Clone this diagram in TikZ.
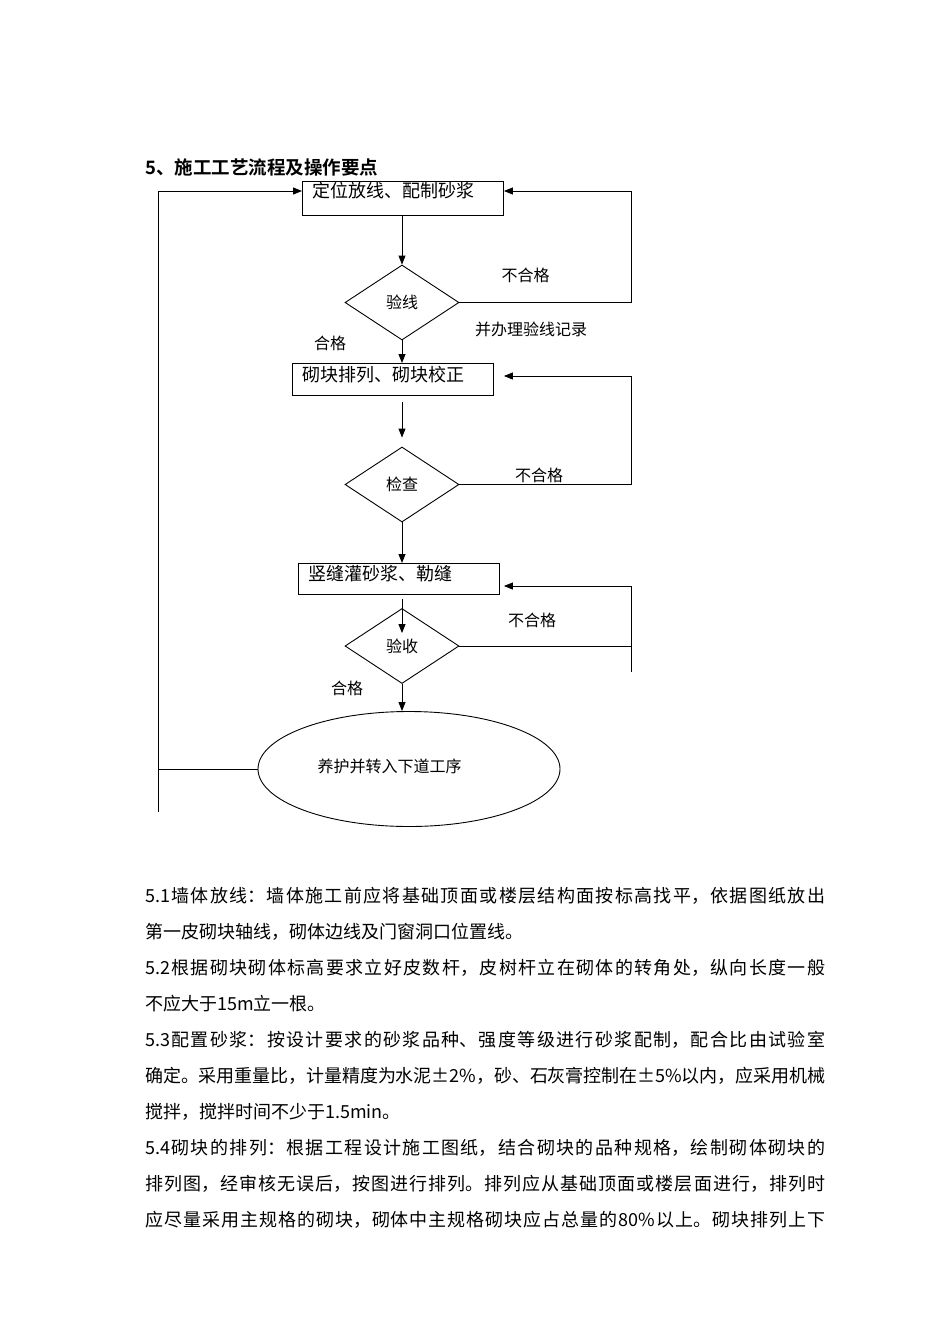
\documentclass[tikz,border=0pt]{standalone}
\usepackage{fontspec}
\newfontfamily\cjk{Noto Sans CJK SC}
\newfontfamily\cjkbf{Noto Sans CJK SC Bold}
\usetikzlibrary{shapes.geometric,arrows.meta,positioning}
\newcommand\fullline[1]{\parbox{680pt}{\XeTeXlinebreaklocale "zh"\XeTeXlinebreakskip=0pt plus 1fil minus 1pt\parfillskip=0pt\tolerance=10000\noindent #1}}
\tikzset{
  procbox/.style={draw, line width=0.9pt, anchor=north west, text width=181pt, inner xsep=10pt, inner ysep=2pt, align=left, font=\cjk\fontsize{18}{18}\selectfont},
  check/.style={draw, line width=0.9pt, diamond, aspect=1.52, minimum width=114pt, minimum height=75pt, inner sep=0pt, font=\cjk\fontsize{16}{16}\selectfont},
  note/.style={font=\cjk\fontsize{16}{16}\selectfont, inner sep=0pt},
  flow/.style={line width=0.9pt, -{Triangle[length=9pt,width=7pt]}},
  plainline/.style={line width=0.9pt},
  para/.style={anchor=west, inner sep=0pt, font=\cjk\fontsize{18}{18}\selectfont}
}
\begin{document}
\begin{tikzpicture}[x={(1pt,0)}, y={(0,-1pt)}]
  \fill[white] (0,0) rectangle (950,1344);
  \useasboundingbox (0,0) rectangle (950,1344);

  % heading
  \node[anchor=west, inner sep=0pt, font=\cjkbf\fontsize{18.5}{18.5}\selectfont] (title) at (145,167) {5、施工工艺流程及操作要点};

  % steps and checks
  \node[procbox, text height=14pt, text depth=16pt] (box1) at (302,181) {定位放线、配制砂浆};
  \node[check] (d1) at (402,302.5) {验线};
  \node[procbox, text height=16pt, text depth=12pt] (box2) at (292,363) {砌块排列、砌块校正};
  \node[check] (d2) at (402,484.5) {检查};
  \node[procbox, text height=15pt, text depth=12pt] (box3) at (298,563) {竖缝灌砂浆、勒缝};
  \node[check] (d3) at (402,646) {验收};
  \node[draw, line width=0.9pt, ellipse, minimum width=302pt, minimum height=115pt, inner sep=0pt,
        label={[note, xshift=-19.5pt, yshift=3pt]center:养护并转入下道工序}] (ell) at (409,769) {};

  % labels
  \node[note] (fail1) at (525.5,275) {不合格};
  \node[note] (rec1) at (531,329) {并办理验线记录};
  \node[note] (pass1) at (330,343) {合格};
  \node[note] (fail2) at (539,475) {不合格};
  \node[note] (fail3) at (532,620) {不合格};
  \node[note] (pass3) at (347,688) {合格};

  % main flow
  \draw[flow] (d1 |- box1.south) -- (d1.north);
  \draw[flow] (d1.south) -- (d1.south |- box2.north);
  \draw[flow, shorten <=6pt, shorten >=9pt] (d2 |- box2.south) -- (d2.north);
  \draw[flow] (d2.south) -- (d2.south |- box3.north);
  \draw[flow, shorten <=4pt] (d3 |- box3.south) -- ([yshift=-25pt]d3.north);
  \draw[flow] (d3.south) -- (d3.south |- ell.north);

  % feedback loops
  \coordinate (r1a) at (631,302.5);
  \coordinate (r1b) at (631,191);
  \draw[flow] (d1.east) -- (r1a) -- (r1b) -- (box1.east |- r1b);

  \coordinate (r2a) at (631,484.5);
  \coordinate (r2b) at (631,376);
  \draw[flow] (d2.east) -- (r2a) -- (r2b) -- ([xshift=10pt]box2.east |- r2b);

  \coordinate (r3a) at (631,672);
  \coordinate (r3b) at (631,586);
  \draw[plainline] (d3.east) -- (d3.east -| r3a);
  \draw[flow] (r3a) -- (r3b) -- ([xshift=4pt]box3.east |- r3b);

  \coordinate (lb) at (158,812);
  \coordinate (lt) at (158,191);
  \draw[plainline] (ell.west) -- (ell.west -| lb);
  \draw[flow] (lb) -- (lt) -- (box1.west |- lt);

  % text below the chart
  \node[para] (p1) at (145,896) {\fullline{5.1墙体放线：墙体施工前应将基础顶面或楼层结构面按标高找平，依据图纸放出}};
  \node[para] (p2) at (145,932) {第一皮砌块轴线，砌体边线及门窗洞口位置线。};
  \node[para] (p3) at (145,968) {\fullline{5.2根据砌块砌体标高要求立好皮数杆，皮树杆立在砌体的转角处，纵向长度一般}};
  \node[para] (p4) at (145,1004) {不应大于15m立一根。};
  \node[para] (p5) at (145,1040) {\fullline{5.3配置砂浆：按设计要求的砂浆品种、强度等级进行砂浆配制，配合比由试验室}};
  \node[para] (p6) at (145,1076) {\fullline{确定。采用重量比，计量精度为水泥±2\%，砂、石灰膏控制在±5\%以内，应采用机械}};
  \node[para] (p7) at (145,1112) {搅拌，搅拌时间不少于1.5min。};
  \node[para] (p8) at (145,1148) {\fullline{5.4砌块的排列：根据工程设计施工图纸，结合砌块的品种规格，绘制砌体砌块的}};
  \node[para] (p9) at (145,1184) {\fullline{排列图，经审核无误后，按图进行排列。排列应从基础顶面或楼层面进行，排列时}};
  \node[para] (p10) at (145,1220) {\fullline{应尽量采用主规格的砌块，砌体中主规格砌块应占总量的80\%以上。砌块排列上下}};
\end{tikzpicture}
\end{document}
